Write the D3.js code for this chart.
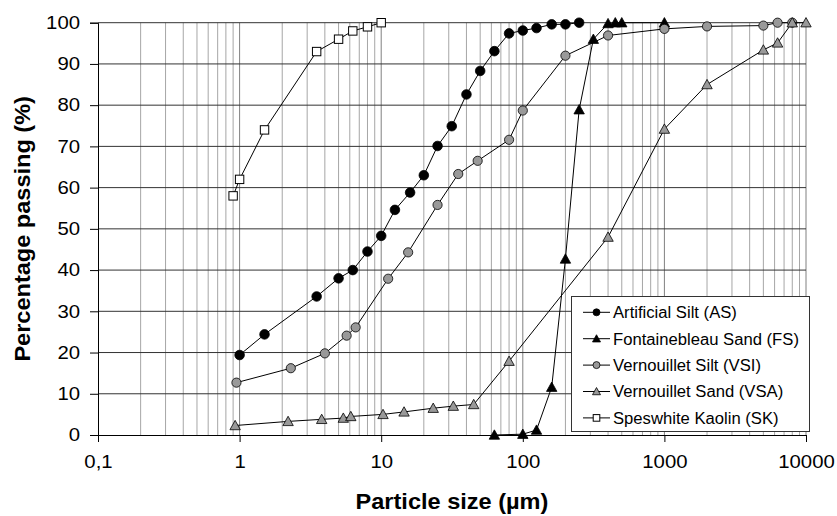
<!DOCTYPE html>
<html><head><meta charset="utf-8">
<script src="https://cdn.jsdelivr.net/npm/d3@7/dist/d3.min.js"></script>
<style>body{margin:0;background:#fff}svg{display:block}text{font-family:"Liberation Sans",Arial,sans-serif}</style>
</head><body><svg id="c" width="837" height="516"></svg>
<script>
const xTicks = [0.1, 1, 10, 100, 1000, 10000];
const xTickLabels = ["0,1", "1", "10", "100", "1000", "10000"];
const yTicks = [0, 10, 20, 30, 40, 50, 60, 70, 80, 90, 100];
const xTitle = "Particle size (µm)";
const yTitle = "Percentage passing (%)";

const asX = [1, 1.5, 3.5, 5, 6.3, 8, 10, 12.5, 16, 20, 25, 31.5, 40, 50, 63, 80, 100, 125, 160, 200, 250];
const asY = [19.4, 24.4, 33.6, 38.0, 40.0, 44.5, 48.3, 54.6, 58.8, 63.0, 70.1, 74.9, 82.6, 88.3, 93.1, 97.4, 98.1, 98.7, 99.6, 99.6, 100];
const fsX = [63, 100, 125, 160, 200, 250, 315, 400, 450, 500, 1000];
const fsY = [0, 0.2, 1.2, 11.6, 42.7, 78.9, 96.0, 99.8, 100, 100, 100];
const vsiX = [0.95, 2.3, 4, 5.7, 6.6, 11.2, 15.5, 25, 35, 48, 80, 100, 200, 400, 1000, 2000, 5000, 6300, 8000];
const vsiY = [12.7, 16.2, 19.8, 24.1, 26.1, 37.9, 44.3, 55.8, 63.3, 66.5, 71.6, 78.7, 92.0, 96.9, 98.5, 99.1, 99.3, 100, 100];
const vsaX = [0.93, 2.2, 3.8, 5.4, 6.1, 10.3, 14.5, 23.3, 32.3, 45, 80, 400, 1000, 2000, 5000, 6300, 8000, 10000];
const vsaY = [2.3, 3.3, 3.8, 4.1, 4.5, 5.0, 5.6, 6.5, 7.0, 7.4, 17.9, 48.0, 74.2, 85.0, 93.4, 95.1, 100, 100];
const skX = [0.9, 1, 1.5, 3.5, 5, 6.3, 8, 10];
const skY = [58, 62, 74, 93, 96, 98, 99, 100];
const seriesNames = ["Artificial Silt (AS)", "Fontainebleau Sand (FS)", "Vernouillet Silt (VSI)", "Vernouillet Sand (VSA)", "Speswhite Kaolin (SK)"];

const series = [
  {name: seriesNames[0], xs: asX, ys: asY, shape: "circle", fill: "#000", r: 4.8},
  {name: seriesNames[1], xs: fsX, ys: fsY, shape: "triangle", fill: "#000", r: 5.2},
  {name: seriesNames[2], xs: vsiX, ys: vsiY, shape: "circle", fill: "#999", r: 4.6},
  {name: seriesNames[3], xs: vsaX, ys: vsaY, shape: "triangle", fill: "#999", r: 5.2},
  {name: seriesNames[4], xs: skX, ys: skY, shape: "square", fill: "#fff", r: 4.2}
];

const L = 98, R = 806, T = 22.7, B = 435;
const x = d3.scaleLog().domain([0.1, 10000]).range([L, R]);
const y = d3.scaleLinear().domain([0, 100]).range([B, T]);
const svg = d3.select("#c");

function stretch(sel, k) {
  sel.each(function () {
    const w = this.getComputedTextLength();
    d3.select(this).attr("textLength", w * k).attr("lengthAdjust", "spacingAndGlyphs");
  });
}

// vertical grid (minor + major)
const minor = [];
for (let e = -1; e < 4; e++) for (let m = 2; m <= 9; m++) minor.push(m * Math.pow(10, e));
svg.append("g").selectAll("line").data(minor).join("line")
  .attr("x1", d => x(d)).attr("x2", d => x(d)).attr("y1", T).attr("y2", B)
  .attr("stroke", "#a6a6a6").attr("stroke-width", 1);
svg.append("g").selectAll("line").data(xTicks.slice(1)).join("line")
  .attr("x1", d => x(d)).attr("x2", d => x(d)).attr("y1", T).attr("y2", B)
  .attr("stroke", "#808080").attr("stroke-width", 1);
// horizontal grid
svg.append("g").selectAll("line").data(yTicks.slice(1)).join("line")
  .attr("x1", L).attr("x2", R).attr("y1", d => y(d)).attr("y2", d => y(d))
  .attr("stroke", "#333").attr("stroke-width", 1);

// axes
const gx = svg.append("g").attr("transform", `translate(0,${B})`)
  .call(d3.axisBottom(x).tickValues(xTicks).tickFormat((d, i) => xTickLabels[i]).tickSize(7).tickPadding(13));
const gy = svg.append("g").attr("transform", `translate(${L},0)`)
  .call(d3.axisLeft(y).tickValues(yTicks).tickSize(8).tickPadding(10));
[gx, gy].forEach(g => {
  g.select(".domain").attr("stroke", "#000");
  g.selectAll(".tick line").attr("stroke", "#000");
  g.selectAll(".tick text").attr("font-size", 18).attr("fill", "#000");
  stretch(g.selectAll(".tick text"), 1.13);
});

// series
const line = d3.line().x(d => x(d[0])).y(d => y(d[1]));
function marker(g, s, cx, cy, r) {
  if (s.shape === "circle") {
    g.append("circle").attr("cx", cx).attr("cy", cy).attr("r", r)
      .attr("fill", s.fill).attr("stroke", "#000").attr("stroke-width", 0.8);
  } else if (s.shape === "triangle") {
    const h = r * 1.8;
    g.append("path").attr("d", `M${cx},${cy - h * 0.55}L${cx + r},${cy + h * 0.45}L${cx - r},${cy + h * 0.45}Z`)
      .attr("fill", s.fill).attr("stroke", "#000").attr("stroke-width", 0.8);
  } else {
    g.append("rect").attr("x", cx - r).attr("y", cy - r).attr("width", 2 * r).attr("height", 2 * r)
      .attr("fill", s.fill).attr("stroke", "#000").attr("stroke-width", 1);
  }
}
series.forEach(s => {
  const pts = s.xs.map((v, i) => [v, s.ys[i]]);
  const g = svg.append("g");
  g.append("path").attr("d", line(pts)).attr("fill", "none").attr("stroke", "#000").attr("stroke-width", 1);
  pts.forEach(p => marker(g, s, x(p[0]), y(p[1]), s.r));
});

// titles
const xt = svg.append("text").attr("x", (L + R) / 2).attr("y", 509).attr("text-anchor", "middle")
  .attr("font-size", 22).attr("font-weight", "bold").text(xTitle);
stretch(xt, 1.07);
const yt = svg.append("text").attr("transform", `translate(30,${(T + B) / 2}) rotate(-90)`).attr("text-anchor", "middle")
  .attr("font-size", 22).attr("font-weight", "bold").text(yTitle);
stretch(yt, 1.07);

// legend
const lg = svg.append("g");
lg.append("rect").attr("x", 571.5).attr("y", 296.5).attr("width", 238).attr("height", 135)
  .attr("fill", "#fff").attr("stroke", "#333").attr("stroke-width", 1);
series.forEach((s, i) => {
  const cy = 312.3 + i * 26.4;
  lg.append("line").attr("x1", 583).attr("x2", 610).attr("y1", cy).attr("y2", cy).attr("stroke", "#000");
  marker(lg, s, 596.5, cy, s.shape === "square" ? 3.3 : (s.shape === "triangle" ? 4 : 3.5));
  const t = lg.append("text").attr("x", 613).attr("y", cy + 5.8).attr("font-size", 16).attr("fill", "#000").text(s.name);
  stretch(t, 1.04);
});
</script></body></html>
